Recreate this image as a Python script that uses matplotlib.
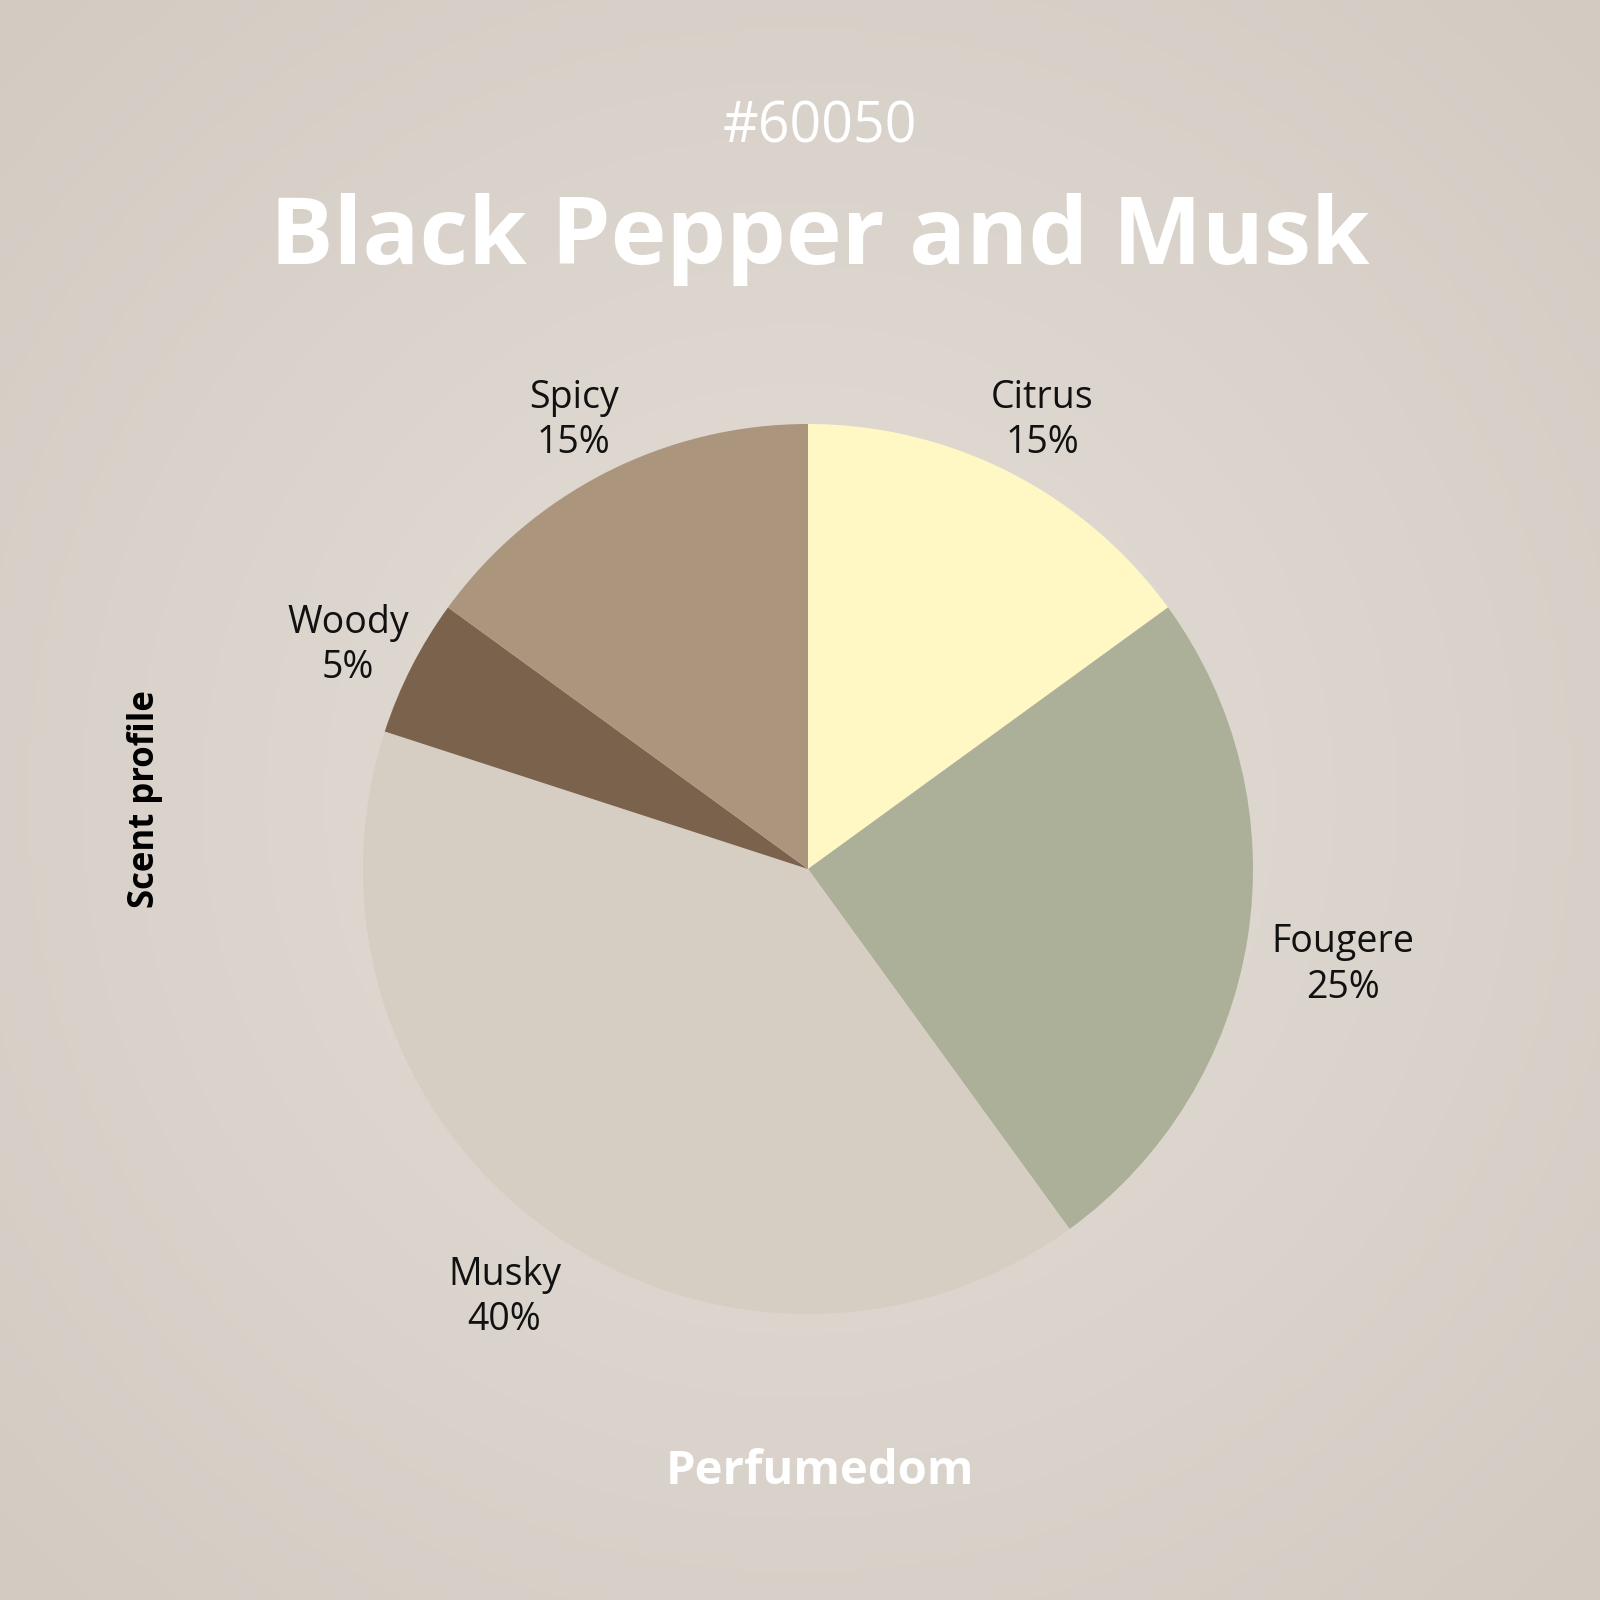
import numpy as np
import matplotlib.pyplot as plt

labels = ['Citrus', 'Fougere', 'Musky', 'Woody', 'Spicy']
shares = [15, 25, 40, 5, 15]
colors = ['#FFF8C4', '#ADB098', '#D6CDC3', '#7A624C', '#AC957D']

plt.rcParams['font.family'] = ['Open Sans', 'DejaVu Sans']

fig = plt.figure(figsize=(16, 16), dpi=100)

# radial background
bg = fig.add_axes([0, 0, 1, 1])
yy, xx = np.mgrid[-1:1:400j, -1:1:400j]
r = np.clip(np.sqrt(xx**2 + yy**2) / 1.414, 0, 1)
c0 = np.array([0xE4, 0xDE, 0xD8]) / 255
c1 = np.array([0xD3, 0xCB, 0xC2]) / 255
img = c0[None, None, :] * (1 - r[..., None]) + c1[None, None, :] * r[..., None]
bg.imshow(img, extent=[0, 1, 0, 1], aspect='auto')
bg.axis('off')

ax = fig.add_axes([363 / 1600, 286 / 1600, 890 / 1600, 890 / 1600])
wedges, texts = ax.pie(shares, colors=colors, startangle=90, counterclock=False,
                       labels=[f'{l}\n{s}%' for l, s in zip(labels, shares)],
                       labeldistance=1.16,
                       wedgeprops=dict(linewidth=0),
                       textprops=dict(fontsize=27, color='#111111', linespacing=1.25))
for t in texts:
    t.set_horizontalalignment('center')
    t.set_verticalalignment('center')
    x, y = t.get_position()
    if t.get_text().startswith('Fougere'):
        x, y = x * 1.05, y * 1.05
    t.set_position((x, y - 0.025))
ax.set_xlim(-1, 1)
ax.set_ylim(-1, 1)
ax.set_aspect('equal')

fig.text(820 / 1600, 1 - 128 / 1600, '#60050', ha='center', va='center', fontsize=40, color='white')
fig.text(820 / 1600, 1 - 239 / 1600, 'Black Pepper and Musk', ha='center', va='center',
         fontsize=68, fontweight='bold', color='white')
fig.text(820 / 1600, 1 - 1471 / 1600, 'Perfumedom', ha='center', va='center',
         fontsize=34, fontweight='bold', color='white')
fig.text(145 / 1600, 1 - 799 / 1600, 'Scent profile', ha='center', va='center',
         rotation=90, fontsize=25, fontweight='bold', color='black')

plt.savefig('out.png', dpi=100)
